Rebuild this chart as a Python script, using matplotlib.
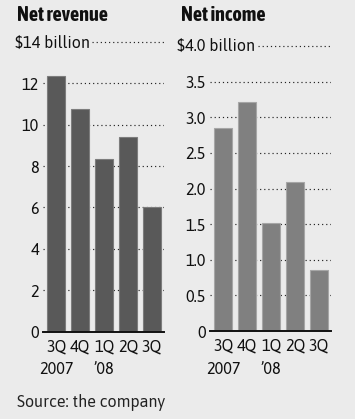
import matplotlib
matplotlib.use("Agg")
import matplotlib.pyplot as plt
from matplotlib import font_manager
from matplotlib.patches import Rectangle
import matplotlib.transforms as mtransforms

# quarterly results, billions of dollars
quarters = ["3Q", "4Q", "1Q", "2Q", "3Q"]
years = ["2007", "", "\u201908", "", ""]
net_revenue = [12.33, 10.74, 8.33, 9.42, 6.04]
net_income = [2.85, 3.22, 1.51, 2.09, 0.85]

rev_ticks = [0, 2, 4, 6, 8, 10, 12]
rev_ticklabels = ["0", "2", "4", "6", "8", "10", "12"]
inc_ticks = [0, 0.5, 1.0, 1.5, 2.0, 2.5, 3.0, 3.5]
inc_ticklabels = ["0", "0.5", "1.0", "1.5", "2.0", "2.5", "3.0", "3.5"]

# pick narrow fonts that are actually installed
installed = {f.name for f in font_manager.fontManager.ttflist}


def pick(cands):
    for c in cands:
        if c in installed:
            return c
    return "DejaVu Sans"


body_font = pick(["Asap", "Asap Condensed", "Archivo Narrow"])
head_font = pick(["Asap Condensed", "Asap", "Archivo Narrow"])
plt.rcParams['font.family'] = [body_font, 'DejaVu Sans']

W, H = 363, 419
fig = plt.figure(figsize=(W / 100, H / 100), dpi=100)
fig.patch.set_facecolor("white")
fig.patches.append(Rectangle((0, 0), 355 / W, 1, transform=fig.transFigure,
                             facecolor="#ebebeb", edgecolor="none", zorder=-10))

DOTS = (0, (1, 2.5))
TXT = "#111111"
FS = 11.6


def px(x, y):
    # pixel position (from top-left) to figure fraction
    return x / W, 1 - y / H


def panel(left, right, top, bottom, values, ymax, ticks, ticklabels, color, edge):
    ax = fig.add_axes([left / W, 1 - bottom / H, (right - left) / W, (bottom - top) / H])
    ax.set_facecolor("none")
    x = range(len(values))
    for t in ticks[1:]:
        ax.axhline(t, color="#222222", lw=0.85, ls=DOTS, zorder=1)
    ax.bar(x, values, width=0.73, color=color, edgecolor=edge, linewidth=0.8, zorder=2)
    ax.set_xlim(-0.55, 4.5)
    ax.set_ylim(0, ymax)
    ax.set_yticks(ticks)
    ax.set_yticklabels(ticklabels, fontsize=FS, color=TXT)
    ax.set_xticks(list(x))
    ax.set_xticklabels(quarters, fontsize=FS, color=TXT)
    ax.tick_params(length=0, pad=3)
    ax.tick_params(axis="x", pad=5)
    for s in ["top", "right", "left"]:
        ax.spines[s].set_visible(False)
    ax.spines["bottom"].set_linewidth(1.4)
    ax.spines["bottom"].set_color(TXT)
    ax.spines["bottom"].set_zorder(3)
    # second row of the category labels
    tr = mtransforms.blended_transform_factory(ax.transData, fig.transFigure)
    for i, yr in enumerate(years):
        if yr:
            ax.text(i, 1 - 374 / H, yr, transform=tr, ha="center", va="baseline",
                    fontsize=FS, color=TXT)
    return ax


ax1 = panel(43, 164, 41.9, 331.7, net_revenue, 14, rev_ticks, rev_ticklabels, "#595959", "#7d7d7d")
ax2 = panel(210, 331, 46.1, 331, net_income, 4.0, inc_ticks, inc_ticklabels, "#808080", "#a6a6a6")

# top gridlines run from the end of the unit label
trans1 = mtransforms.blended_transform_factory(ax1.transAxes, ax1.transData)
ax1.plot([(92 - 43) / 121, 1], [14, 14], transform=trans1, color="#222222", lw=0.85,
         ls=DOTS, clip_on=False)
trans2 = mtransforms.blended_transform_factory(ax2.transAxes, ax2.transData)
ax2.plot([(258 - 210) / 121, 1], [4.0, 4.0], transform=trans2, color="#222222", lw=0.85,
         ls=DOTS, clip_on=False)

fig.text(*px(17, 20.7), "Net revenue", fontsize=14.5, fontweight="bold", color=TXT,
         va="baseline", family=[head_font, 'DejaVu Sans'])
fig.text(*px(181, 20.7), "Net income", fontsize=14.5, fontweight="bold", color=TXT,
         va="baseline", family=[head_font, 'DejaVu Sans'])
fig.text(*px(15, 48.3), "$14 billion", fontsize=FS, color=TXT, va="baseline")
fig.text(*px(177, 51), "$4.0 billion", fontsize=FS, color=TXT, va="baseline")
fig.text(*px(17, 407.3), "Source: the company", fontsize=FS, color="#222222", va="baseline")

fig.savefig("out.png", dpi=100, facecolor=fig.get_facecolor())
